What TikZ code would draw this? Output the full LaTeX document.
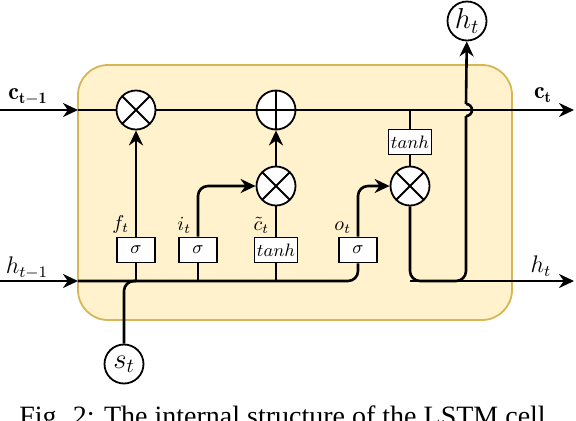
\documentclass[tikz,border=0pt]{standalone}
\usepackage{amsmath}
\usepackage{fontspec}
\newfontfamily\capfont{Liberation Serif}
\usetikzlibrary{arrows.meta}
\definecolor{cellfill}{HTML}{FFF2CC}
\definecolor{celldraw}{HTML}{D6B656}

\begin{document}
\begin{tikzpicture}[x=0.5pt,y=0.5pt,
  flow/.style={line width=1.3pt},
  arrow/.style={flow,-{Stealth[length=7.5pt,width=7pt]}},
  op/.style={circle,draw,line width=0.9pt,fill=white,minimum size=19.5pt,inner sep=0pt},
  mult/.style={op,path picture={\draw[line width=0.9pt]
    (path picture bounding box.north west) -- (path picture bounding box.south east)
    (path picture bounding box.north east) -- (path picture bounding box.south west);}},
  plus/.style={op,path picture={\draw[line width=0.9pt]
    (path picture bounding box.north) -- (path picture bounding box.south)
    (path picture bounding box.west) -- (path picture bounding box.east);}},
  gate/.style={draw,line width=0.9pt,fill=white,minimum width=19pt,minimum height=12.5pt,inner sep=1.2pt,font=\small},
  state/.style={circle,draw,line width=0.9pt,fill=white,minimum size=19.5pt,inner sep=0pt,font=\Large},
  glabel/.style={anchor=south east,inner sep=1.2pt},
  iolabel/.style={font=\large}]
\useasboundingbox (0,0) rectangle (576,420);

% Cell body
\draw[celldraw,fill=cellfill,line width=0.9pt,rounded corners=15pt] (78,100) rectangle (512,355);

% Operations
\node[mult] (fmul) at (136,310) {};
\node[plus] (cadd) at (276,310) {};
\node[mult] (imul) at (276,234) {};
\node[mult] (omul) at (410,234) {};

% Gates
\node[gate] (fgate) at (136,170) {$\sigma$};
\node[gate] (igate) at (198,170) {$\sigma$};
\node[gate] (cgate) at (276,170) {$tanh$};
\node[gate] (ogate) at (358,170) {$\sigma$};
\node[gate] (ctanh) at (410,278) {$tanh$};

% Inputs and outputs
\node[state] (ht) at (467,399) {$h_t$};
\node[state] (st) at (124,56) {$s_t$};
\coordinate (cin) at (0,310);
\coordinate (cedge) at (78,310);
\coordinate (cout) at (574,310);
\coordinate (ctap) at (410,310);
\coordinate (hin) at (0,139);
\coordinate (hedge) at (78,139);
\coordinate (hout) at (574,139);
\coordinate (hjoin) at (466,139);
\coordinate (jlow) at (466,304);
\coordinate (jhigh) at (466,316);

% Cell state line
\draw[arrow] (cin) -- (cedge);
\draw[flow] (cedge) -- (fmul) -- (cadd);
\draw[arrow] (cadd) -- (cout);

% Hidden state line
\draw[arrow] (hin) -- (hedge);
\draw[flow,rounded corners=5pt] (hedge) -| (ogate);
\draw[flow,rounded corners=5pt] (st) |- (fgate |- hedge);
\draw[flow] (fgate) -- (fgate |- hedge);
\draw[flow] (igate) -- (igate |- hedge);
\draw[flow] (cgate) -- (cgate |- hedge);

% Gate connections
\draw[arrow] (fgate) -- (fmul);
\draw[arrow,rounded corners=5pt] (igate) |- (imul);
\draw[flow] (cgate) -- (imul);
\draw[arrow] (imul) -- (cadd);
\draw[arrow,rounded corners=5pt] (ogate) |- (omul);
\draw[flow] (ctap) -- (ctanh) -- (omul);

% Output h_t
\draw[flow,rounded corners=5pt] (omul) |- (hjoin) -- (jlow);
\draw[flow] (jlow) arc[start angle=-90,end angle=90,radius=6];
\draw[arrow] (jhigh) -- (ht);
\draw[arrow] (omul |- hout) -- (hout);

% Labels
\node[glabel] at ([xshift=-2pt]fgate.north) {$f_t$};
\node[glabel] at ([xshift=-2pt]igate.north) {$i_t$};
\node[glabel] at ([xshift=-2pt]cgate.north) {$\tilde{c}_t$};
\node[glabel] at ([xshift=-2pt]ogate.north) {$o_t$};
\node[iolabel] at (28,323) {$\mathbf{c_{t-1}}$};
\node[iolabel] at (543,325) {$\mathbf{c_t}$};
\node[iolabel] at (27,152) {$h_{t-1}$};
\node[iolabel] at (541,154) {$h_t$};

% Caption
\node[anchor=base,inner sep=0pt,font=\capfont\fontsize{14}{16}\selectfont] (caption) at (286,-5.5)
  {Fig. 2: The internal structure of the LSTM cell.};
\end{tikzpicture}
\end{document}
